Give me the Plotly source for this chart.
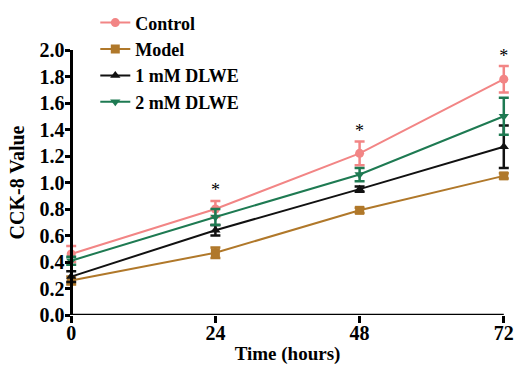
import plotly.graph_objects as go

time_h = [0, 24, 48, 72]
control = [0.46, 0.80, 1.22, 1.78]
control_err = [0.06, 0.06, 0.09, 0.10]
model = [0.26, 0.47, 0.79, 1.05]
model_err = [0.03, 0.04, 0.02, 0.02]
dlwe1 = [0.29, 0.64, 0.95, 1.27]
dlwe1_err = [0.04, 0.04, 0.02, 0.16]
dlwe2 = [0.41, 0.74, 1.06, 1.50]
dlwe2_err = [0.03, 0.06, 0.05, 0.14]
star_x = [24, 48, 72]
star_y = [0.93, 1.38, 1.94]
x_ticks = [0, 24, 48, 72]
y_ticks = [0.0, 0.2, 0.4, 0.6, 0.8, 1.0, 1.2, 1.4, 1.6, 1.8, 2.0]

FONT = "Liberation Serif"
PAD = 1.2  # x-range padding (hours) so end error caps are not clipped
X0, X1 = x_ticks[0], x_ticks[-1]

series = [
    ("Control", control, control_err, "#F28585", "circle"),
    ("Model", model, model_err, "#B0782A", "square"),
    ("1 mM DLWE", dlwe1, dlwe1_err, "#111111", "triangle-up"),
    ("2 mM DLWE", dlwe2, dlwe2_err, "#1E7A52", "triangle-down"),
]

fig = go.Figure()
for name, vals, errs, col, sym in series:
    fig.add_trace(go.Scatter(
        x=time_h, y=vals, name=name, mode="lines+markers",
        line=dict(color=col, width=2),
        marker=dict(color=col, symbol=sym, size=9),
        error_y=dict(type="data", array=errs, visible=True, color=col,
                     thickness=2.5, width=5),
        cliponaxis=False,
    ))

fig.add_trace(go.Scatter(
    x=star_x, y=star_y, mode="text", text=["*"] * len(star_x),
    textfont=dict(family=FONT, size=18, color="black"),
    showlegend=False, cliponaxis=False, hoverinfo="skip",
))

# x-axis baseline spanning only the data range 0..72
fig.add_shape(type="line", xref="x", yref="y", x0=X0, x1=X1, y0=0, y1=0,
              line=dict(color="black", width=2.5), layer="above")

span = (X1 + PAD) - (X0 - PAD)
fig.update_layout(
    width=514, height=365,
    margin=dict(l=64, r=3, t=50, b=50, autoexpand=False),
    paper_bgcolor="white", plot_bgcolor="white",
    font=dict(family=FONT, size=19, color="black"),
    showlegend=True,
    legend=dict(x=0.07, y=1.172, xanchor="left", yanchor="top",
                bgcolor="rgba(0,0,0,0)",
                font=dict(family=FONT, size=18, color="black", weight="bold"),
                itemwidth=30, tracegroupgap=0),
    xaxis=dict(range=[X0 - PAD, X1 + PAD], tickvals=x_ticks,
               ticktext=[str(v) for v in x_ticks],
               showline=False,
               ticks="outside", ticklen=7, tickwidth=2.5, tickcolor="black",
               showgrid=False, zeroline=False, automargin=False,
               ticklabelstandoff=-7,
               tickfont=dict(family=FONT, size=20, weight="bold"),
               title=dict(text="Time (hours)", standoff=14,
                          font=dict(family=FONT, size=19, weight="bold"))),
    yaxis=dict(range=[0, 2.0], tickvals=y_ticks,
               ticktext=[f"{v:.1f}" for v in y_ticks],
               anchor="free", position=PAD / span,
               showline=True, linecolor="black", linewidth=2.5,
               ticks="outside", ticklen=5, tickwidth=2.5, tickcolor="black",
               showgrid=False, zeroline=False, automargin=False,
               ticklabelstandoff=-3,
               tickfont=dict(family=FONT, size=20, weight="bold"),
               title=dict(text="CCK-8 Value", standoff=8,
                          font=dict(family=FONT, size=20, weight="bold"))),
)

fig.write_html("out.html", config={"displayModeBar": False},
               post_script="document.body.style.margin='0';document.body.style.padding='0';")
